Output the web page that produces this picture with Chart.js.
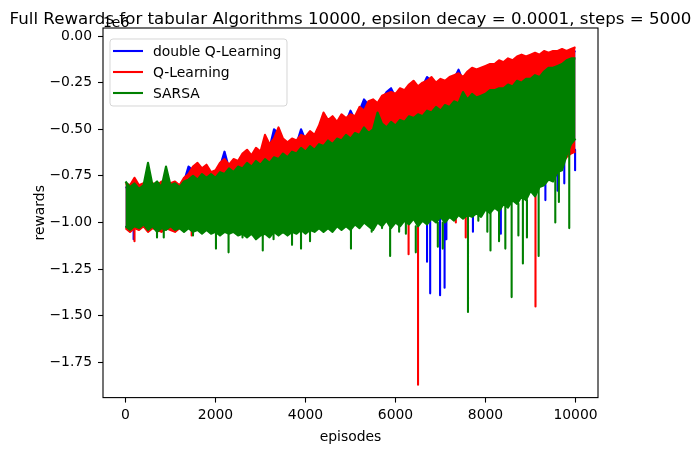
<!DOCTYPE html>
<html>
<head>
<meta charset="utf-8">
<script src="https://cdn.jsdelivr.net/npm/chart.js@4.4.1/dist/chart.umd.min.js"></script>
<style>
  html, body { margin: 0; padding: 0; background: #fff; }
  canvas { display: block; }
</style>
</head>
<body>
<canvas id="grafico" width="699" height="455"></canvas>
<script>
// rewards in units of 1e6, upper / lower edge of each noisy curve every 100 episodes
const episodes = [
  0, 100, 200, 300, 400, 500, 600, 700, 800, 900,
  1000, 1100, 1200, 1300, 1400, 1500, 1600, 1700, 1800, 1900,
  2000, 2100, 2200, 2300, 2400, 2500, 2600, 2700, 2800, 2900,
  3000, 3100, 3200, 3300, 3400, 3500, 3600, 3700, 3800, 3900,
  4000, 4100, 4200, 4300, 4400, 4500, 4600, 4700, 4800, 4900,
  5000, 5100, 5200, 5300, 5400, 5500, 5600, 5700, 5800, 5900,
  6000, 6100, 6200, 6300, 6400, 6500, 6600, 6700, 6800, 6900,
  7000, 7100, 7200, 7300, 7400, 7500, 7600, 7700, 7800, 7900,
  8000, 8100, 8200, 8300, 8400, 8500, 8600, 8700, 8800, 8900,
  9000, 9100, 9200, 9300, 9400, 9500, 9600, 9700, 9800, 9900,
  9999
];

const dqlHigh = [
  -0.81, -0.82, -0.79, -0.82, -0.80, -0.83, -0.81, -0.82, -0.80, -0.82,
  -0.81, -0.80, -0.82, -0.78, -0.70, -0.72, -0.70, -0.73, -0.71, -0.75,
  -0.74, -0.70, -0.62, -0.71, -0.68, -0.69, -0.65, -0.63, -0.66, -0.62,
  -0.64, -0.56, -0.60, -0.50, -0.52, -0.57, -0.59, -0.57, -0.58, -0.50,
  -0.56, -0.53, -0.55, -0.50, -0.44, -0.47, -0.45, -0.48, -0.44, -0.46,
  -0.40, -0.45, -0.40, -0.34, -0.37, -0.36, -0.38, -0.34, -0.30, -0.28,
  -0.33, -0.30, -0.31, -0.28, -0.26, -0.29, -0.27, -0.22, -0.24, -0.27,
  -0.25, -0.26, -0.24, -0.23, -0.18, -0.24, -0.21, -0.19, -0.20, -0.19,
  -0.18, -0.17, -0.17, -0.15, -0.16, -0.14, -0.15, -0.13, -0.12, -0.13,
  -0.12, -0.11, -0.12, -0.10, -0.11, -0.10, -0.10, -0.09, -0.10, -0.09,
  -0.08
];
const dqlLow = [
  -1.02, -1.04, -1.02, -1.03, -1.01, -1.04, -1.02, -1.03, -1.04, -1.02,
  -1.03, -1.04, -1.02, -1.03, -1.01, -1.03, -1.02, -1.04, -1.02, -1.04,
  -1.03, -1.04, -1.02, -1.04, -1.03, -1.04, -1.03, -1.04, -1.03, -1.05,
  -1.03, -1.04, -1.03, -1.02, -1.04, -1.02, -1.03, -1.01, -1.03, -1.01,
  -1.02, -1.00, -1.02, -1.00, -1.01, -0.99, -1.01, -0.99, -1.00, -0.98,
  -1.00, -0.98, -0.99, -0.97, -0.99, -0.97, -0.98, -0.96, -0.98, -0.96,
  -0.97, -0.95, -0.97, -0.95, -0.96, -0.94, -0.96, -0.94, -0.95, -0.93,
  -0.94, -0.92, -0.94, -0.92, -0.93, -0.91, -0.92, -0.90, -0.91, -0.89,
  -0.89, -0.87, -0.88, -0.86, -0.86, -0.84, -0.84, -0.82, -0.82, -0.80,
  -0.79, -0.77, -0.76, -0.74, -0.73, -0.71, -0.69, -0.67, -0.64, -0.62,
  -0.61
];

const qlHigh = [
  -0.79, -0.80, -0.76, -0.80, -0.79, -0.81, -0.79, -0.80, -0.78, -0.80,
  -0.79, -0.78, -0.80, -0.76, -0.74, -0.70, -0.68, -0.71, -0.69, -0.73,
  -0.72, -0.68, -0.66, -0.69, -0.66, -0.67, -0.63, -0.61, -0.64, -0.60,
  -0.62, -0.53, -0.58, -0.55, -0.49, -0.55, -0.57, -0.55, -0.56, -0.53,
  -0.54, -0.51, -0.53, -0.48, -0.41, -0.45, -0.43, -0.46, -0.42, -0.44,
  -0.42, -0.43, -0.38, -0.40, -0.35, -0.34, -0.36, -0.32, -0.31, -0.30,
  -0.31, -0.28, -0.29, -0.26, -0.24, -0.27, -0.25, -0.24, -0.22, -0.25,
  -0.23, -0.24, -0.22, -0.21, -0.20, -0.22, -0.19, -0.17, -0.18, -0.17,
  -0.16, -0.15, -0.15, -0.13, -0.14, -0.12, -0.13, -0.11, -0.10, -0.11,
  -0.10, -0.09, -0.10, -0.08, -0.09, -0.08, -0.08, -0.07, -0.08, -0.07,
  -0.06
];
const qlLow = [
  -1.03, -1.05, -1.03, -1.04, -1.02, -1.05, -1.03, -1.04, -1.05, -1.03,
  -1.04, -1.05, -1.03, -1.04, -1.02, -1.04, -1.03, -1.05, -1.03, -1.05,
  -1.04, -1.05, -1.03, -1.05, -1.04, -1.05, -1.04, -1.05, -1.04, -1.06,
  -1.04, -1.05, -1.04, -1.03, -1.05, -1.03, -1.04, -1.02, -1.04, -1.02,
  -1.03, -1.01, -1.03, -1.01, -1.02, -1.00, -1.02, -1.00, -1.01, -0.99,
  -1.01, -0.99, -1.00, -0.98, -1.00, -0.98, -0.99, -0.97, -0.99, -0.97,
  -0.98, -0.96, -0.98, -0.96, -0.97, -0.95, -0.97, -0.95, -0.96, -0.94,
  -0.95, -0.93, -0.95, -0.93, -0.94, -0.92, -0.93, -0.91, -0.92, -0.90,
  -0.90, -0.88, -0.89, -0.87, -0.87, -0.85, -0.85, -0.83, -0.83, -0.81,
  -0.80, -0.78, -0.77, -0.75, -0.74, -0.72, -0.70, -0.68, -0.65, -0.63,
  -0.62
];

const sarsaHigh = [
  -0.78, -0.81, -0.79, -0.82, -0.80, -0.68, -0.80, -0.78, -0.81, -0.70,
  -0.80, -0.79, -0.81, -0.78, -0.77, -0.75, -0.77, -0.74, -0.76, -0.74,
  -0.76, -0.73, -0.74, -0.71, -0.73, -0.70, -0.71, -0.68, -0.70, -0.67,
  -0.69, -0.66, -0.68, -0.65, -0.66, -0.63, -0.65, -0.62, -0.63, -0.60,
  -0.62, -0.59, -0.61, -0.58, -0.59, -0.56, -0.58, -0.55, -0.56, -0.53,
  -0.55, -0.52, -0.53, -0.49, -0.52, -0.50, -0.41, -0.47, -0.49, -0.46,
  -0.48, -0.45, -0.46, -0.43, -0.44, -0.42, -0.43, -0.40, -0.41, -0.38,
  -0.40, -0.37, -0.38, -0.35, -0.36, -0.30, -0.34, -0.31, -0.33, -0.32,
  -0.31, -0.29, -0.29, -0.28, -0.28, -0.26, -0.27, -0.24, -0.25, -0.23,
  -0.23, -0.21, -0.22, -0.19, -0.17, -0.17, -0.16, -0.15, -0.13, -0.12,
  -0.12
];
const sarsaLow = [
  -1.02, -1.04, -1.02, -1.03, -1.01, -1.04, -1.02, -1.05, -1.03, -1.04,
  -1.02, -1.04, -1.03, -1.05, -1.03, -1.05, -1.04, -1.06, -1.04, -1.06,
  -1.05, -1.07, -1.05, -1.06, -1.05, -1.07, -1.06, -1.08, -1.06, -1.09,
  -1.07, -1.06, -1.08, -1.05, -1.07, -1.05, -1.07, -1.05, -1.06, -1.04,
  -1.06, -1.04, -1.05, -1.03, -1.05, -1.03, -1.05, -1.02, -1.04, -1.02,
  -1.04, -1.01, -1.03, -1.00, -1.02, -1.04, -1.00, -1.02, -0.99, -1.03,
  -1.00, -1.02, -0.99, -1.01, -0.98, -1.02, -0.99, -1.01, -0.98, -1.00,
  -0.97, -1.00, -0.97, -0.99, -0.96, -0.98, -0.96, -0.97, -0.95, -0.97,
  -0.93, -0.95, -0.92, -0.94, -0.90, -0.92, -0.88, -0.90, -0.86, -0.88,
  -0.83, -0.86, -0.81, -0.80, -0.77, -0.78, -0.73, -0.72, -0.64, -0.58,
  -0.55
];

// single deep episodes that stick out below the band
const dqlSpikeEpisodes = [180, 3250, 6700, 6770, 6990, 7090, 7130, 7720, 8340, 9330, 9600, 9750, 9990];
const dqlSpikeLows = [-1.09, -1.05, -1.21, -1.38, -1.39, -1.35, -1.09, -1.05, -1.06, -0.88, -0.83, -0.79, -0.72];
const qlSpikeEpisodes = [200, 1470, 6290, 6500, 7340, 7560, 9110, 9900];
const qlSpikeLows = [-1.10, -1.07, -1.17, -1.87, -1.00, -1.08, -1.45, -0.63];
const sarsaSpikeEpisodes = [700, 850, 1500, 2010, 2290, 2600, 3050, 3290, 3700, 3900,
  4100, 5010, 5470, 5700, 5880, 6080, 6230, 6450, 6940, 7050,
  7610, 7840, 8040, 8110, 8300, 8440, 8580, 8730, 8830, 8920,
  9180, 9550, 9630, 9860];
const sarsaSpikeLows = [-1.08, -1.08, -1.07, -1.14, -1.16, -1.08, -1.15, -1.09, -1.12, -1.14,
  -1.10, -1.14, -1.05, -1.03, -1.18, -1.05, -1.06, -1.16, -1.13, -1.14,
  -1.48, -0.99, -1.05, -1.15, -1.10, -1.14, -1.40, -1.07, -1.22, -1.08,
  -1.18, -1.00, -0.89, -1.03];

const xTicks = [0, 2000, 4000, 6000, 8000, 10000];
const yTicks = [-1.75, -1.50, -1.25, -1.00, -0.75, -0.50, -0.25, 0.00];

const FONTE = "'DejaVu Sans', 'Liberation Sans', sans-serif";

function pontos(valores) {
    return episodes.map((ep, i) => ({ x: ep, y: valores[i] }));
}

function banda(alto, baixo, cor, ordem) {
    return [
        { data: pontos(alto), borderColor: cor, backgroundColor: cor, fill: '+1', order: ordem },
        { data: pontos(baixo), borderColor: cor, fill: false, order: ordem }
    ];
}

function picos(eps, fundos, baixo, cor, ordem) {
    const data = [];
    eps.forEach((ep, i) => {
        const base = baixo[Math.round(ep / 100)];
        data.push({ x: ep, y: base }, { x: ep, y: fundos[i] }, { x: ep, y: null });
    });
    return { data: data, borderColor: cor, fill: false, order: ordem, spanGaps: false };
}

const legenda = [
    { label: 'double Q-Learning', cor: 'blue' },
    { label: 'Q-Learning', cor: 'red' },
    { label: 'SARSA', cor: 'green' }
];

const extras = {
    id: 'extras',
    afterDatasetsDraw(chart) {
        const { ctx, chartArea: a } = chart;
        ctx.save();
        ctx.strokeStyle = '#000';
        ctx.lineWidth = 1.1;
        ctx.strokeRect(a.left, a.top, a.right - a.left, a.bottom - a.top);

        // legend box
        const bx = 110, by = 39, bw = 177, bh = 67, r = 3;
        ctx.beginPath();
        ctx.moveTo(bx + r, by);
        ctx.lineTo(bx + bw - r, by);
        ctx.quadraticCurveTo(bx + bw, by, bx + bw, by + r);
        ctx.lineTo(bx + bw, by + bh - r);
        ctx.quadraticCurveTo(bx + bw, by + bh, bx + bw - r, by + bh);
        ctx.lineTo(bx + r, by + bh);
        ctx.quadraticCurveTo(bx, by + bh, bx, by + bh - r);
        ctx.lineTo(bx, by + r);
        ctx.quadraticCurveTo(bx, by, bx + r, by);
        ctx.closePath();
        ctx.fillStyle = 'rgba(255,255,255,0.8)';
        ctx.fill();
        ctx.strokeStyle = 'rgba(204,204,204,0.8)';
        ctx.lineWidth = 1;
        ctx.stroke();

        ctx.font = '13.9px ' + FONTE;
        ctx.textBaseline = 'middle';
        ctx.textAlign = 'left';
        legenda.forEach((item, i) => {
            const y = 51 + i * 21;
            ctx.strokeStyle = item.cor;
            ctx.lineWidth = 2.1;
            ctx.beginPath();
            ctx.moveTo(113, y);
            ctx.lineTo(143, y);
            ctx.stroke();
            ctx.fillStyle = '#000';
            ctx.fillText(item.label, 153, y + 1);
        });
        ctx.restore();
    },
    afterDraw(chart) {
        const { ctx, chartArea: a } = chart;
        const cx = (a.left + a.right) / 2;
        ctx.save();
        ctx.fillStyle = '#000';
        ctx.textBaseline = 'alphabetic';
        ctx.textAlign = 'center';
        ctx.font = '16.67px ' + FONTE;
        ctx.fillText('Full Rewards for tabular Algorithms 10000, epsilon decay = 0.0001, steps = 5000', cx, 23.5);

        ctx.font = '13.9px ' + FONTE;
        ctx.fillText('episodes', cx, 441);

        ctx.textAlign = 'left';
        ctx.fillText('1e6', a.left, 27);

        ctx.translate(44, (a.top + a.bottom) / 2);
        ctx.rotate(-Math.PI / 2);
        ctx.textAlign = 'center';
        ctx.fillText('rewards', 0, 0);
        ctx.restore();
    }
};

const ctx = document.getElementById('grafico').getContext('2d');

new Chart(ctx, {
    type: 'line',
    data: {
        datasets: [
            ...banda(dqlHigh, dqlLow, 'blue', 3),
            picos(dqlSpikeEpisodes, dqlSpikeLows, dqlLow, 'blue', 3),
            ...banda(qlHigh, qlLow, 'red', 2),
            picos(qlSpikeEpisodes, qlSpikeLows, qlLow, 'red', 2),
            ...banda(sarsaHigh, sarsaLow, 'green', 1),
            picos(sarsaSpikeEpisodes, sarsaSpikeLows, sarsaLow, 'green', 1)
        ]
    },
    options: {
        responsive: false,
        animation: false,
        devicePixelRatio: 1,
        layout: { padding: { left: 0, top: 28, right: 101, bottom: 0 } },
        elements: {
            point: { radius: 0, hoverRadius: 0 },
            line: { borderWidth: 2.1, tension: 0, borderJoinStyle: 'round' }
        },
        plugins: {
            legend: { display: false },
            tooltip: { enabled: false },
            title: { display: false }
        },
        scales: {
            x: {
                type: 'linear',
                min: -500,
                max: 10499,
                afterFit: (s) => { s.height = 455 - 397.6; },
                afterBuildTicks: (s) => { s.ticks = xTicks.map(v => ({ value: v })); },
                grid: { display: true, drawOnChartArea: false, drawTicks: true, tickLength: 5, tickColor: '#000', tickWidth: 1.1 },
                border: { display: false },
                ticks: {
                    padding: 4,
                    color: '#000',
                    maxRotation: 0,
                    font: { family: FONTE, size: 13.9 },
                    callback: (v) => String(v)
                }
            },
            y: {
                type: 'linear',
                min: -1.939,
                max: 0.043,
                afterFit: (s) => { s.width = 103; },
                afterBuildTicks: (s) => { s.ticks = yTicks.map(v => ({ value: v })); },
                grid: { display: true, drawOnChartArea: false, drawTicks: true, tickLength: 5, tickColor: '#000', tickWidth: 1.1 },
                border: { display: false },
                ticks: {
                    padding: 6,
                    color: '#000',
                    font: { family: FONTE, size: 13.9 },
                    callback: (v) => v.toFixed(2).replace('-', '\u2212')
                }
            }
        }
    },
    plugins: [extras]
});
</script>
</body>
</html>
